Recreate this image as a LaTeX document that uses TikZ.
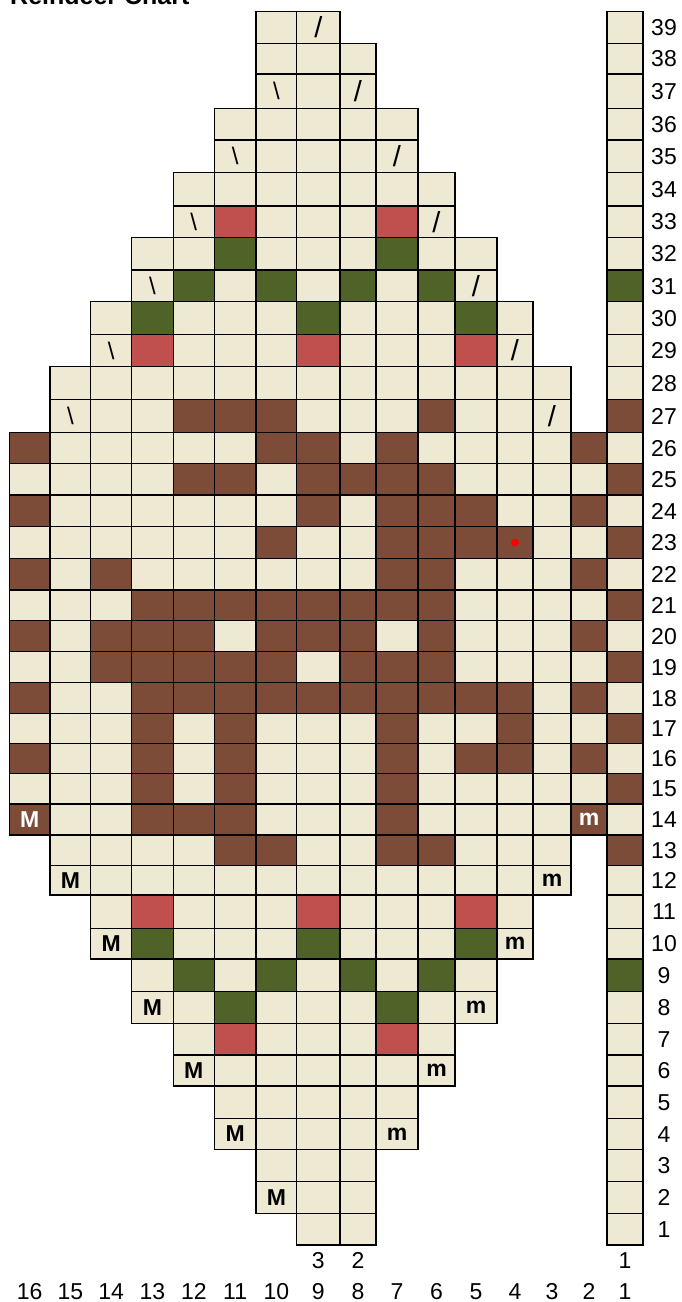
\documentclass[tikz,border=0pt]{standalone}
\usepackage{fontspec}
\setmainfont{Liberation Sans}
\usepackage{xcolor}
\definecolor{rdcream}{HTML}{EEE9D3}
\definecolor{rdbrown}{HTML}{7C4C38}
\definecolor{rdred}{HTML}{C0504D}
\definecolor{rdgreen}{HTML}{4F6228}
\usepackage{tikz}
% cell edges: columns 16..1 left to right, rows 39..1 top to bottom
\def\rdcolx{{9.3,50,90.7,131.7,173.3,214.3,256,296.7,340,376,418,455,497,533,571,607,643}}
\def\rdrowy{{11.7,43.3,74,108.3,140,172.7,206,237.3,270,301.7,334.3,366.7,399.3,432.5,463.3,495,526.7,558.3,590,620.7,651.7,682.7,713.3,743.3,773.3,804,835,865.5,895,928.3,959,991.7,1023.3,1055,1086,1118.3,1149.3,1181.7,1213.3,1245}}
% marks printed in the cells
\newcommand\rdtxtM{\bfseries M}
\newcommand\rdtxtm{\bfseries m}
\newcommand\rdtxtW{\color{white}\bfseries M}
\newcommand\rdtxtw{\color{white}\bfseries m}
\newcommand\rdtxtL{\fontsize{24}{24}\selectfont\textbackslash}
\newcommand\rdtxtR{\fontsize{29}{29}\selectfont/}

\begin{document}
\begin{tikzpicture}[x=1pt,y=-1pt,
  cell/.style={draw=black,line width=1.5pt},
  code x/.style={draw=none},
  code c/.style={fill=rdcream},
  code L/.style={fill=rdcream},
  code R/.style={fill=rdcream},
  code M/.style={fill=rdcream},
  code m/.style={fill=rdcream},
  code b/.style={fill=rdbrown},
  code d/.style={fill=rdbrown},
  code W/.style={fill=rdbrown},
  code w/.style={fill=rdbrown},
  code r/.style={fill=rdred},
  code g/.style={fill=rdgreen},
  mk/.style={font=\fontsize{23}{23}\selectfont},
  num/.style={font=\fontsize{23}{23}\selectfont,inner sep=0pt,anchor=base,yshift=-8.2pt}]
\useasboundingbox (0,0) rectangle (682,1302);
\node[anchor=base west,inner sep=0pt,font=\bfseries\fontsize{25}{25}\selectfont] (title) at (10,4.5) {Reindeer Chart};
% one list per row, col 16 first, col 1 (the strip) last
\foreach \r/\cells in {
  39/{x,x,x,x,x,x,c,R,x,x,x,x,x,x,x,c},
  38/{x,x,x,x,x,x,c,c,c,x,x,x,x,x,x,c},
  37/{x,x,x,x,x,x,L,c,R,x,x,x,x,x,x,c},
  36/{x,x,x,x,x,c,c,c,c,c,x,x,x,x,x,c},
  35/{x,x,x,x,x,L,c,c,c,R,x,x,x,x,x,c},
  34/{x,x,x,x,c,c,c,c,c,c,c,x,x,x,x,c},
  33/{x,x,x,x,L,r,c,c,c,r,R,x,x,x,x,c},
  32/{x,x,x,c,c,g,c,c,c,g,c,c,x,x,x,c},
  31/{x,x,x,L,g,c,g,c,g,c,g,R,x,x,x,g},
  30/{x,x,c,g,c,c,c,g,c,c,c,g,c,x,x,c},
  29/{x,x,L,r,c,c,c,r,c,c,c,r,R,x,x,c},
  28/{x,c,c,c,c,c,c,c,c,c,c,c,c,c,x,c},
  27/{x,L,c,c,b,b,b,c,c,c,b,c,c,R,x,b},
  26/{b,c,c,c,c,c,b,b,c,b,c,c,c,c,b,c},
  25/{c,c,c,c,b,b,c,b,b,b,b,c,c,c,c,b},
  24/{b,c,c,c,c,c,c,b,c,b,b,b,c,c,b,c},
  23/{c,c,c,c,c,c,b,c,c,b,b,b,d,c,c,b},
  22/{b,c,b,c,c,c,c,c,c,b,b,c,c,c,b,c},
  21/{c,c,c,b,b,b,b,b,b,b,b,c,c,c,c,b},
  20/{b,c,b,b,b,c,b,b,b,c,b,c,c,c,b,c},
  19/{c,c,b,b,b,b,b,c,b,b,b,c,c,c,c,b},
  18/{b,c,c,b,b,b,b,b,b,b,b,b,b,c,b,c},
  17/{c,c,c,b,c,b,c,c,c,b,c,c,b,c,c,b},
  16/{b,c,c,b,c,b,c,c,c,b,c,b,b,c,b,c},
  15/{c,c,c,b,c,b,c,c,c,b,c,c,c,c,c,b},
  14/{W,c,c,b,b,b,c,c,c,b,c,c,c,c,w,c},
  13/{x,c,c,c,c,b,b,c,c,b,b,c,c,c,x,b},
  12/{x,M,c,c,c,c,c,c,c,c,c,c,c,m,x,c},
  11/{x,x,c,r,c,c,c,r,c,c,c,r,c,x,x,c},
  10/{x,x,M,g,c,c,c,g,c,c,c,g,m,x,x,c},
  9/{x,x,x,c,g,c,g,c,g,c,g,c,x,x,x,g},
  8/{x,x,x,M,c,g,c,c,c,g,c,m,x,x,x,c},
  7/{x,x,x,x,c,r,c,c,c,r,c,x,x,x,x,c},
  6/{x,x,x,x,M,c,c,c,c,c,m,x,x,x,x,c},
  5/{x,x,x,x,x,c,c,c,c,c,x,x,x,x,x,c},
  4/{x,x,x,x,x,M,c,c,c,m,x,x,x,x,x,c},
  3/{x,x,x,x,x,x,c,c,c,x,x,x,x,x,x,c},
  2/{x,x,x,x,x,x,M,c,c,x,x,x,x,x,x,c},
  1/{x,x,x,x,x,x,x,c,c,x,x,x,x,x,x,c}} {
  \pgfmathsetmacro\yt{\rdrowy[39-\r]}
  \pgfmathsetmacro\yb{\rdrowy[40-\r]}
  \foreach \k [count=\i] in \cells {
    \pgfmathsetmacro\xl{\rdcolx[\i-1]}
    \pgfmathsetmacro\xr{\rdcolx[\i]}
    \path[cell,code \k] (\xl,\yt) rectangle (\xr,\yb);
    \node[mk] (c\r-\i) at ({(\xl+\xr)/2},{(\yt+\yb)/2}) {\csname rdtxt\k\endcsname};
  }
  \node[num] (row\r) at (664,{(\yt+\yb)/2}) {\r};
}
% the red dot
\fill[red] (c23-13) circle (4);
% stitch counts under the first row
\node[num] (cast3) at (c1-8 |- 0,1260) {3};
\node[num] (cast2) at (c1-9 |- 0,1260) {2};
\node[num] (cast1) at (c1-16 |- 0,1260) {1};
% column numbers
\foreach \i in {1,...,16} {
  \pgfmathsetmacro\xl{\rdcolx[\i-1]}
  \pgfmathsetmacro\xr{\rdcolx[\i]}
  \pgfmathtruncatemacro\col{17-\i}
  \node[num] (col\col) at ({(\xl+\xr)/2},1291) {\col};
}
\end{tikzpicture}
\end{document}
